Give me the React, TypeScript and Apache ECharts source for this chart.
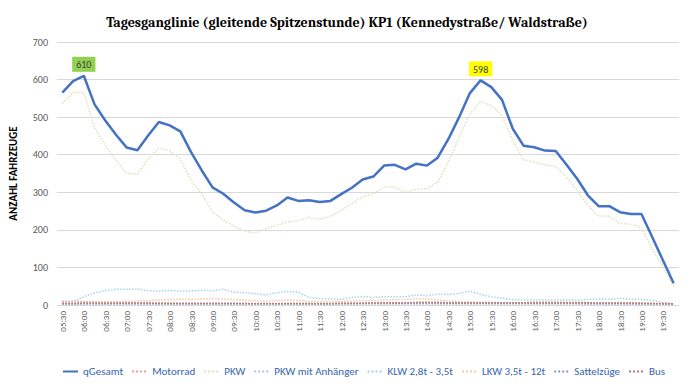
import React, { useEffect, useRef } from "react";
import * as echarts from "echarts";

const categories = [
  "05:30","05:45","06:00","06:15","06:30","06:45","07:00","07:15","07:30","07:45",
  "08:00","08:15","08:30","08:45","09:00","09:15","09:30","09:45","10:00","10:15",
  "10:30","10:45","11:00","11:15","11:30","11:45","12:00","12:15","12:30","12:45",
  "13:00","13:15","13:30","13:45","14:00","14:15","14:30","14:45","15:00","15:15",
  "15:30","15:45","16:00","16:15","16:30","16:45","17:00","17:15","17:30","17:45",
  "18:00","18:15","18:30","18:45","19:00","19:15","19:30","19:45",
];

const qGesamt = [
  565, 596, 610, 534, 491, 453, 419, 412, 451, 487,
  478, 462, 407, 358, 313, 296, 273, 252, 246, 251,
  265, 286, 277, 279, 274, 277, 295, 312, 334, 342,
  371, 373, 361, 376, 371, 392, 442, 500, 564, 598,
  580, 546, 469, 424, 420, 411, 410, 374, 336, 292,
  263, 263, 247, 242, 242, 181, 119, 58,
];

const motorrad = [
  10, 10, 9, 8, 7, 6, 6, 5, 5, 5,
  5, 4, 4, 4, 4, 4, 4, 3, 3, 3,
  3, 4, 4, 4, 3, 3, 4, 4, 4, 5,
  5, 5, 5, 5, 6, 6, 6, 6, 6, 6,
  6, 6, 6, 6, 7, 7, 7, 6, 6, 6,
  5, 5, 5, 5, 4, 4, 3, 2,
];

const pkw = [
  537, 565, 566, 472, 425, 385, 351, 348, 389, 418,
  411, 389, 332, 296, 248, 226, 210, 196, 192, 203,
  212, 221, 224, 233, 228, 236, 252, 270, 288, 296,
  314, 314, 299, 308, 310, 327, 381, 447, 508, 542,
  531, 504, 438, 387, 381, 373, 369, 341, 305, 265,
  237, 236, 217, 215, 206, 150, 102, 49,
];

const pkwAnhaenger = [
  1, 1, 1, 2, 2, 2, 2, 2, 2, 2,
  2, 2, 2, 2, 2, 2, 2, 2, 2, 2,
  2, 2, 2, 2, 2, 2, 3, 3, 3, 3,
  3, 3, 3, 3, 3, 3, 3, 3, 3, 3,
  3, 3, 3, 3, 3, 3, 3, 3, 3, 2,
  2, 2, 2, 2, 2, 2, 1, 1,
];

const klw = [
  6, 8, 22, 32, 38, 42, 42, 42, 38, 37,
  39, 37, 38, 39, 38, 42, 34, 33, 30, 27,
  33, 36, 34, 20, 17, 16, 15, 20, 22, 20,
  22, 22, 22, 27, 25, 29, 28, 31, 37, 28,
  22, 18, 14, 13, 13, 13, 13, 13, 13, 15,
  16, 15, 18, 15, 15, 12, 7, 4,
];

const lkw = [
  5, 6, 7, 8, 8, 9, 10, 11, 12, 13,
  14, 15, 15, 16, 17, 16, 14, 13, 11, 10,
  12, 13, 12, 10, 9, 9, 10, 11, 12, 12,
  13, 14, 15, 17, 16, 14, 11, 9, 8, 7,
  7, 6, 6, 6, 7, 7, 8, 7, 7, 6,
  6, 6, 5, 5, 5, 4, 3, 2,
];

const sattelzuege = [
  3, 3, 4, 4, 4, 4, 4, 4, 4, 4,
  4, 4, 4, 4, 4, 4, 4, 4, 3, 3,
  3, 3, 3, 3, 3, 3, 3, 3, 4, 4,
  4, 4, 4, 4, 4, 4, 4, 4, 4, 4,
  4, 4, 4, 4, 4, 4, 4, 4, 4, 4,
  4, 4, 4, 4, 3, 3, 3, 2,
];

const bus = [
  4, 4, 5, 5, 5, 5, 5, 5, 5, 4,
  4, 4, 4, 4, 4, 4, 4, 4, 4, 4,
  4, 4, 4, 4, 4, 4, 5, 5, 5, 6,
  6, 6, 6, 7, 7, 7, 6, 6, 6, 6,
  6, 6, 6, 6, 6, 6, 6, 6, 6, 6,
  5, 5, 5, 5, 5, 4, 4, 3,
];

const yTicks = { min: 0, max: 700, interval: 100 };

const seriesNames = [
  "qGesamt", "Motorrad", "PKW", "PKW mit Anhänger",
  "KLW 2,8t - 3,5t", "LKW 3,5t - 12t", "Sattelzüge", "Bus",
];

// indices of labelled peaks and their label box colours
const peakIndices = [2, 39];
const peakColors = ["#92D050", "#FFFF00"];

export default function App() {
  const ref = useRef<HTMLDivElement>(null);
  useEffect(() => {
    if (!ref.current) return;
    const chart = echarts.init(ref.current, undefined, { renderer: "svg" });
    const baseFont = "Carlito, 'Liberation Sans', Arial, sans-serif";
    const dotted = (name: string, data: number[], color: string) => ({
      name,
      type: "line",
      data,
      symbol: "none",
      lineStyle: { color, width: 1.5, type: "dotted" },
      itemStyle: { color },
      z: 2,
    });
    chart.setOption({
      animation: false,
      textStyle: { fontFamily: baseFont },
      title: {
        text: "Tagesganglinie (gleitende Spitzenstunde) KP1 (Kennedystraße/ Waldstraße)",
        left: "center",
        top: 10,
        textStyle: {
          fontFamily: "Caladea, 'Liberation Serif', 'DejaVu Serif', serif",
          fontWeight: "bold",
          fontSize: 14,
          color: "#000",
        },
      },
      grid: { left: 54, right: 15, top: 42, bottom: 86, containLabel: false },
      legend: {
        bottom: 9,
        left: 57,
        itemWidth: 15,
        itemHeight: 4,
        itemGap: 8,
        itemStyle: { opacity: 0 },
        textStyle: { color: "#3565AE", fontSize: 11, fontFamily: baseFont },
        data: seriesNames,
      },
      xAxis: {
        type: "category",
        data: categories,
        boundaryGap: true,
        axisLine: { lineStyle: { color: "#d9d9d9" } },
        axisTick: { show: false },
        axisLabel: {
          rotate: 90,
          interval: 1,
          fontSize: 9,
          color: "#595959",
          margin: 6,
        },
      },
      yAxis: {
        type: "value",
        min: yTicks.min,
        max: yTicks.max,
        interval: yTicks.interval,
        name: "ANZAHL FAHRZEUGE",
        nameLocation: "middle",
        nameRotate: 90,
        nameGap: 38,
        nameTextStyle: { fontWeight: "bold", fontSize: 11, color: "#000" },
        axisLine: { show: false },
        axisTick: { show: false },
        axisLabel: { fontSize: 10, color: "#595959", margin: 9 },
        splitLine: { lineStyle: { color: "#d9d9d9" } },
      },
      series: [
        {
          name: "qGesamt",
          type: "line",
          symbol: "none",
          z: 5,
          lineStyle: { color: "#4472C4", width: 2.5 },
          itemStyle: { color: "#4472C4" },
          data: qGesamt,
          markPoint: {
            symbol: "circle",
            symbolSize: 0,
            silent: true,
            data: peakIndices.map((idx, j) => ({
              coord: [idx, qGesamt[idx]],
              value: qGesamt[idx],
              label: {
                show: true,
                position: "top",
                distance: 4,
                formatter: String(qGesamt[idx]),
                fontSize: 10,
                color: "#404040",
                backgroundColor: peakColors[j],
                padding: [3, 4, 2, 4],
              },
            })),
          },
        },
        dotted("Motorrad", motorrad, "#E79C9C"),
        dotted("PKW", pkw, "#DCE3B8"),
        dotted("PKW mit Anhänger", pkwAnhaenger, "#AFC0DE"),
        dotted("KLW 2,8t - 3,5t", klw, "#A3D6EA"),
        dotted("LKW 3,5t - 12t", lkw, "#F7C7A6"),
        dotted("Sattelzüge", sattelzuege, "#8797B5"),
        dotted("Bus", bus, "#C0706E"),
      ],
    });
    return () => chart.dispose();
  }, []);
  return <div ref={ref} style={{ width: 694, height: 391, margin: -8 }} />;
}
